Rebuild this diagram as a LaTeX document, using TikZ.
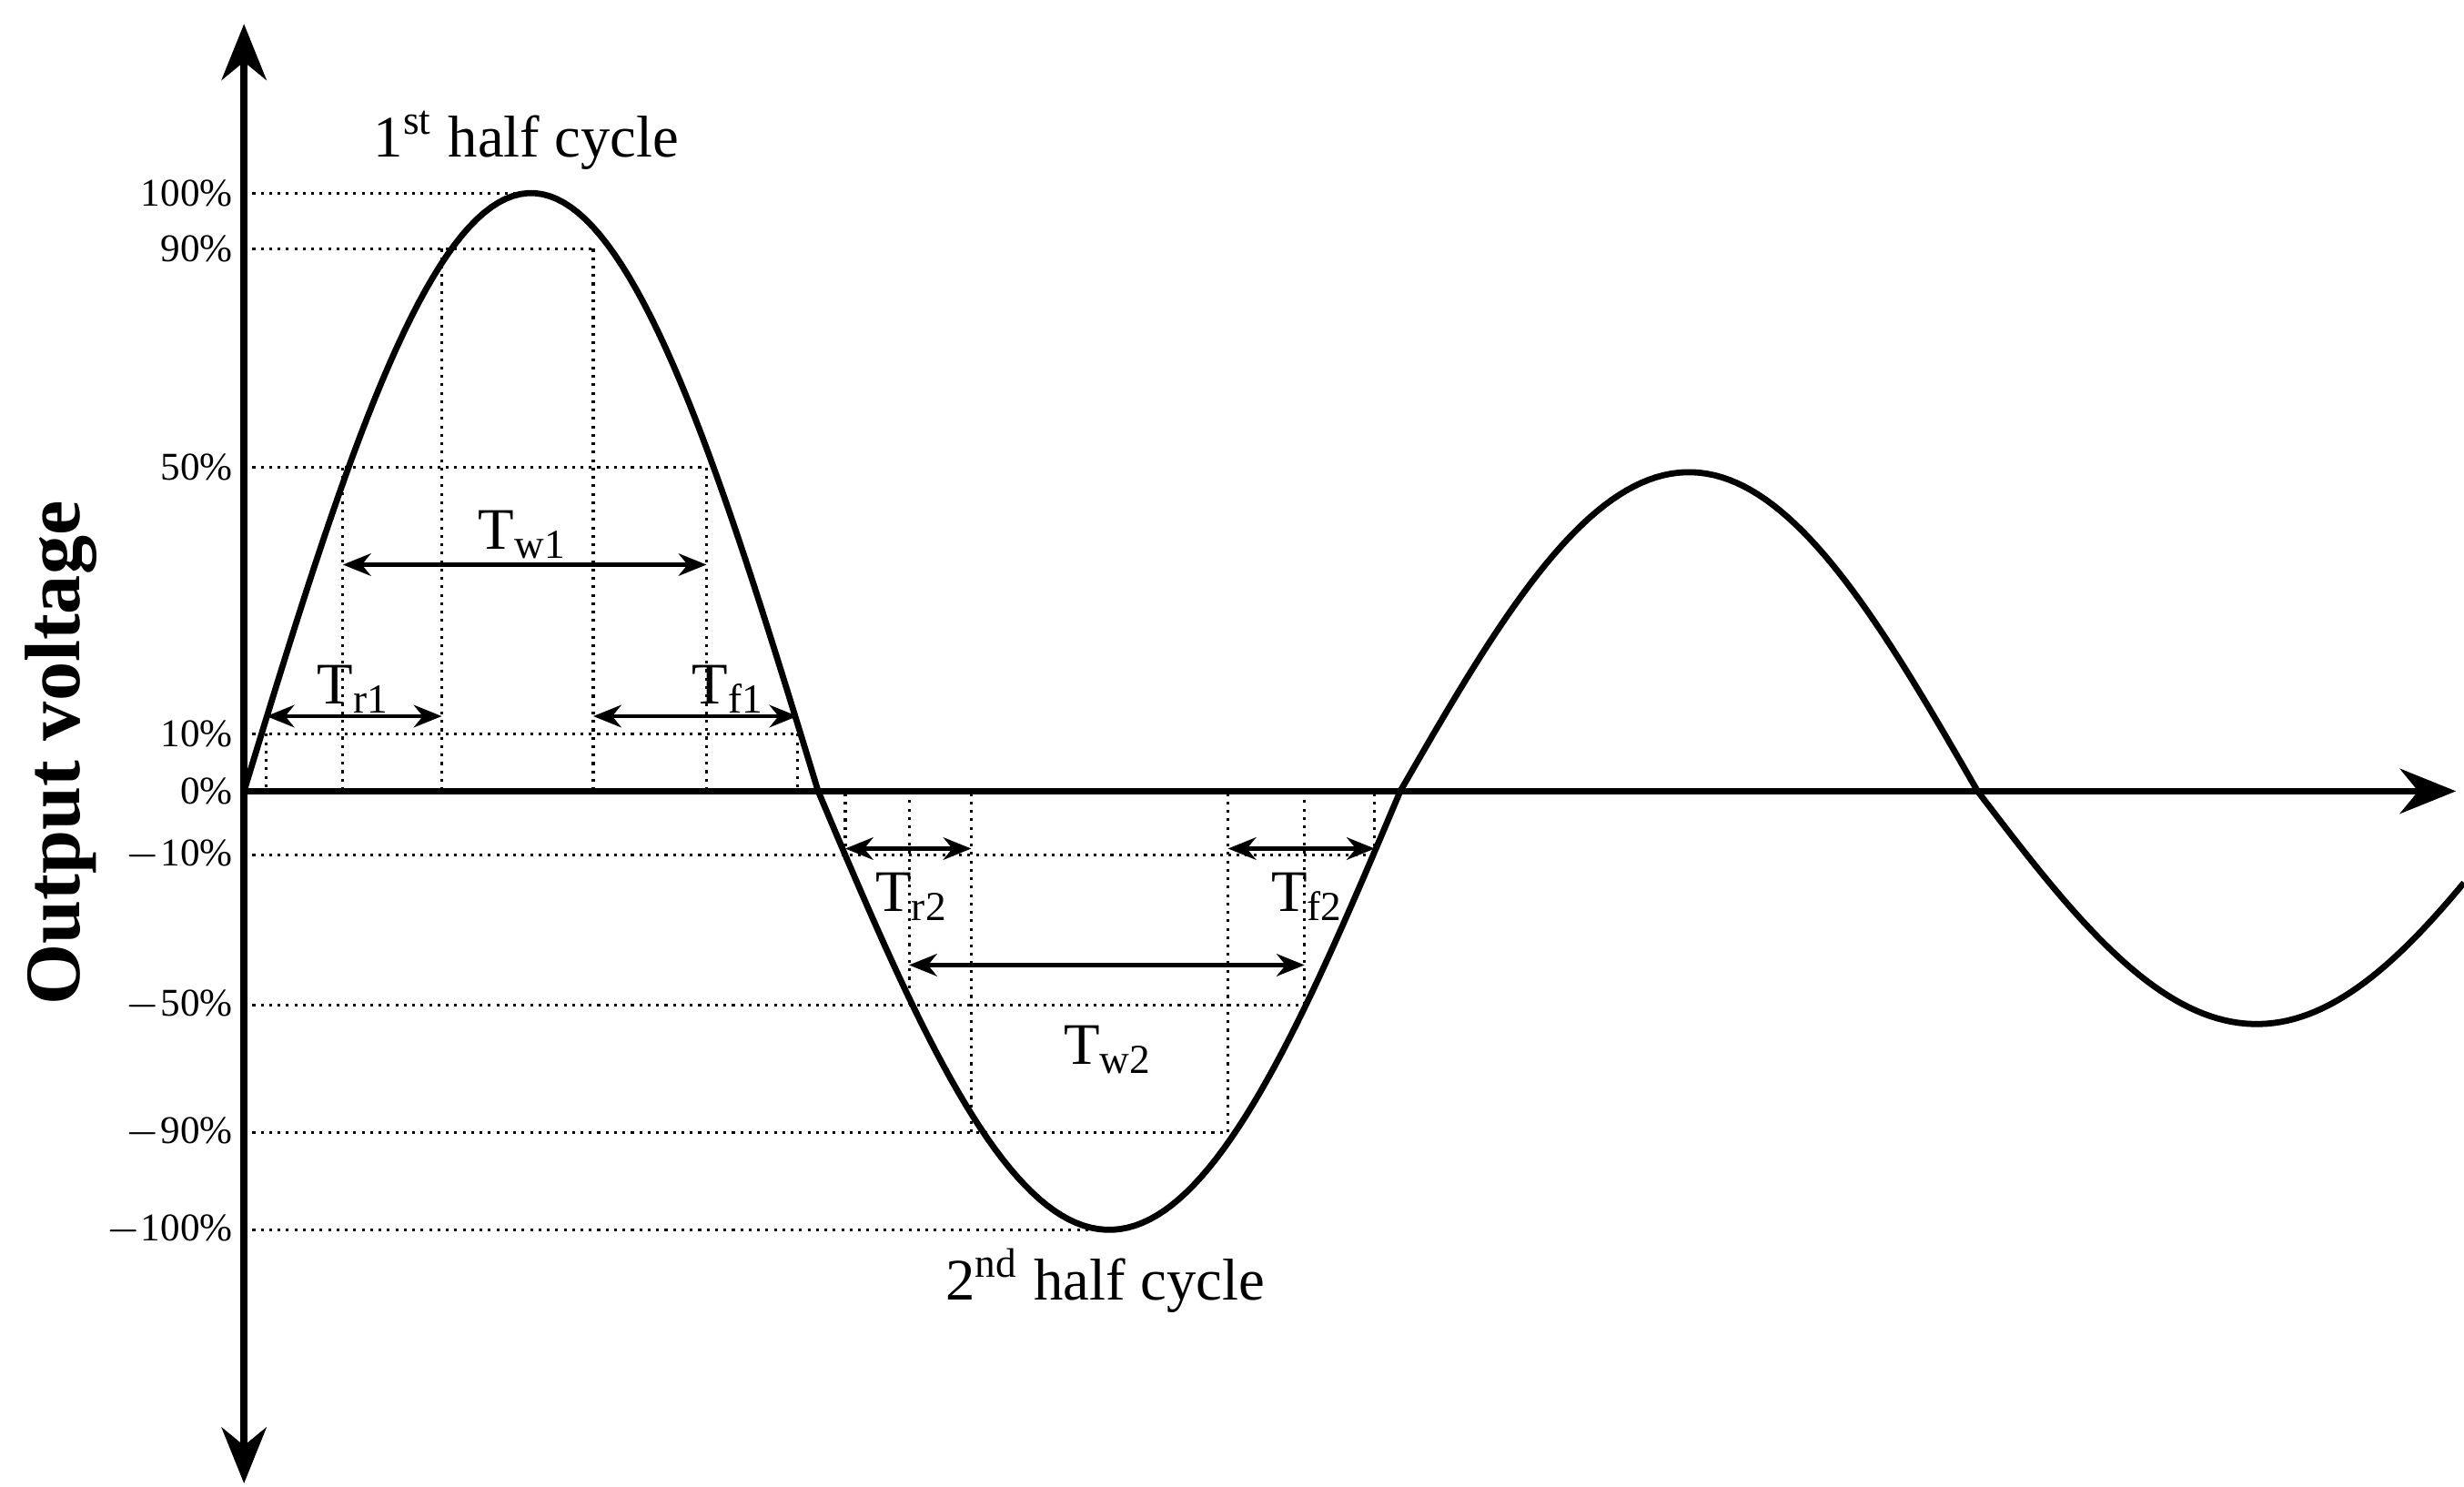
\documentclass[tikz,border=0pt]{standalone}
\usepackage{fontspec}
\setmainfont{Liberation Serif}
\usetikzlibrary{arrows.meta}
\tikzset{
  dotl/.style={densely dotted, line width=0.5pt},
  dim/.style={{Stealth[length=5pt,width=4pt]}-{Stealth[length=5pt,width=4pt]}, line width=0.7pt},
  axis/.style={line width=1.2pt},
  pct/.style={anchor=east, font=\fontsize{7}{8}\selectfont, inner sep=1pt},
  lbl/.style={font=\fontsize{10.5}{11}\selectfont},
}
\begin{document}
\begin{tikzpicture}[x=0.01cm,y=-0.01cm]
\useasboundingbox (0,0) rectangle (1545,932);
% dotted horizontals
\foreach \y/\xe in {121/323,156/372,293/443,460/500,536/862,630/818,710/770,771/686}
  \draw[dotl] (153,\y) -- (\xe,\y);
% dotted verticals
\foreach \x/\y in {167/460,215/293,277/156,372/156,443/293,500/460,530/536,570/630,609/710,770/710,818/630,862/536}
  \draw[dotl] (\x,\y) -- (\x,496);
% axes
\coordinate (o) at (153,496);
\coordinate (xe) at (1540,496);
\coordinate (yt) at (153,15);
\coordinate (yb) at (153,930);
\draw[axis,-{Stealth[length=10pt,width=8pt]}] (o) -- (xe);
\draw[axis,{Stealth[length=10pt,width=8pt]}-{Stealth[length=10pt,width=8pt]}] (yb) -- (yt);
% curve
\draw[line width=1.1pt,domain=153:513,samples=80] plot (\x,{496-375*sin((\x-153)/360*180)});
\draw[line width=1.1pt,domain=513:878,samples=80] plot (\x,{496+275*sin((\x-513)/365*180)});
\draw[line width=1.1pt,domain=878:1240,samples=80] plot (\x,{496-200*sin((\x-878)/362*180)});
\draw[line width=1.1pt,domain=1240:1545,samples=70] plot (\x,{496+146*sin((\x-1240)/350*180)});
% percent labels
\foreach \y/\t in {121/100\%,156/90\%,293/50\%,460/10\%,496/0\%,536/$-$10\%,630/$-$50\%,710/$-$90\%,771/$-$100\%}
  \node[pct] at (150,\y) {\t};
% dimension arrows
\coordinate (r1a) at (167,449); \coordinate (r1b) at (277,449);
\coordinate (f1a) at (372,449); \coordinate (f1b) at (500,449);
\coordinate (w1a) at (215,354); \coordinate (w1b) at (443,354);
\coordinate (r2a) at (530,532); \coordinate (r2b) at (609,532);
\coordinate (f2a) at (770,532); \coordinate (f2b) at (862,532);
\coordinate (w2a) at (570,605); \coordinate (w2b) at (818,605);
\draw[dim] (r1a) -- (r1b);
\draw[dim] (f1a) -- (f1b);
\draw[dim] (w1a) -- (w1b);
\draw[dim] (r2a) -- (r2b);
\draw[dim] (f2a) -- (f2b);
\draw[dim] (w2a) -- (w2b);
\node[lbl] (tr1) at (222,432) {T\textsubscript{r1}};
\node[lbl] (tf1) at (457,432) {T\textsubscript{f1}};
\node[lbl] (tw1) at (328,335) {T\textsubscript{w1}};
\node[lbl] (tr2) at (572,562) {T\textsubscript{r2}};
\node[lbl] (tf2) at (820,562) {T\textsubscript{f2}};
\node[lbl] (tw2) at (695,658) {T\textsubscript{w2}};
\node[lbl] (h1) at (330,88) {1\textsuperscript{st} half cycle};
\node[lbl] (h2) at (693,803) {2\textsuperscript{nd} half cycle};
\node[rotate=90, font=\fontsize{14}{15}\selectfont\bfseries] (ov) at (38,472) {Output voltage};
\end{tikzpicture}
\end{document}
